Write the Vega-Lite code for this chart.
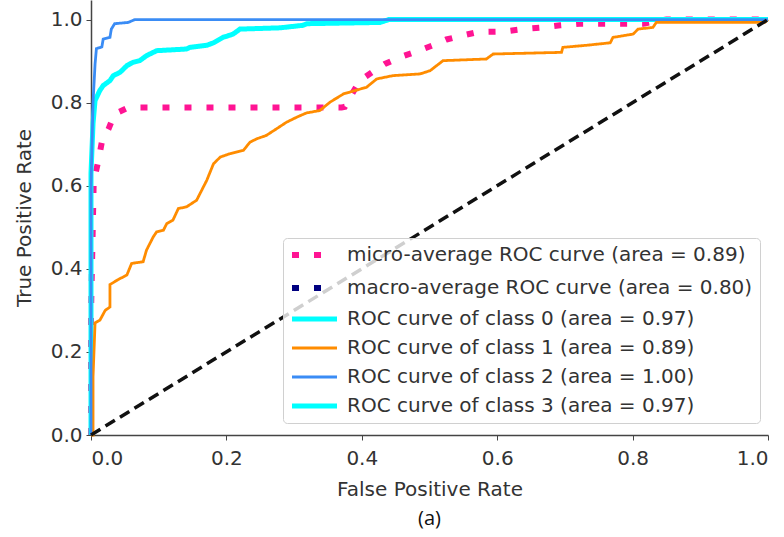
{
  "$schema": "https://vega.github.io/schema/vega-lite/v6.json",
  "autosize": "none",
  "width": 677,
  "height": 435,
  "padding": {"left": 91, "top": 0, "right": 16, "bottom": 102},
  "background": "white",
  "title": {"text": "(a)", "orient": "bottom", "anchor": "middle", "font": "Open Sans", "fontSize": 20, "fontWeight": "normal", "color": "#111", "offset": 10},
  "config": {
    "view": {"stroke": null},
    "axis": {"labelFont": "DejaVu Sans", "titleFont": "DejaVu Sans", "labelFontSize": 20, "titleFontSize": 20, "titleFontWeight": "normal", "labelColor": "#333", "titleColor": "#333", "domainColor": "#444", "domainWidth": 1.5, "tickColor": "#444", "tickSize": 5, "grid": false},
    "legend": {"orient": "none", "legendX": 192, "legendY": 238, "title": null, "labelFont": "DejaVu Sans", "labelFontSize": 20, "labelColor": "#333", "symbolType": "M-1.6,0H7.4", "symbolSize": 100, "symbolStrokeWidth": 4, "labelOffset": 37, "padding": 7, "rowPadding": 9, "fillColor": "rgba(255,255,255,0.8)", "strokeColor": "#d0d0d0", "cornerRadius": 4, "labelLimit": 600}
  },
  "layer": [
    {
      "data": {"values": [
        {"s": "micro", "i": 0, "x": 0, "y": 0},
        {"s": "micro", "i": 1, "x": 0, "y": 0.29},
        {"s": "micro", "i": 2, "x": 0.002, "y": 0.45},
        {"s": "micro", "i": 3, "x": 0.004, "y": 0.61},
        {"s": "micro", "i": 4, "x": 0.011, "y": 0.661},
        {"s": "micro", "i": 5, "x": 0.016, "y": 0.705},
        {"s": "micro", "i": 6, "x": 0.026, "y": 0.737},
        {"s": "micro", "i": 7, "x": 0.035, "y": 0.773},
        {"s": "micro", "i": 8, "x": 0.055, "y": 0.788},
        {"s": "micro", "i": 9, "x": 0.37, "y": 0.788},
        {"s": "micro", "i": 10, "x": 0.375, "y": 0.79},
        {"s": "micro", "i": 11, "x": 0.387, "y": 0.825},
        {"s": "micro", "i": 12, "x": 0.397, "y": 0.853},
        {"s": "micro", "i": 13, "x": 0.415, "y": 0.873},
        {"s": "micro", "i": 14, "x": 0.434, "y": 0.893},
        {"s": "micro", "i": 15, "x": 0.456, "y": 0.909},
        {"s": "micro", "i": 16, "x": 0.479, "y": 0.922},
        {"s": "micro", "i": 17, "x": 0.505, "y": 0.938},
        {"s": "micro", "i": 18, "x": 0.525, "y": 0.952},
        {"s": "micro", "i": 19, "x": 0.55, "y": 0.962},
        {"s": "micro", "i": 20, "x": 0.572, "y": 0.97},
        {"s": "micro", "i": 21, "x": 0.609, "y": 0.971},
        {"s": "micro", "i": 22, "x": 0.638, "y": 0.977},
        {"s": "micro", "i": 23, "x": 0.668, "y": 0.981},
        {"s": "micro", "i": 24, "x": 0.693, "y": 0.986},
        {"s": "micro", "i": 25, "x": 0.722, "y": 0.99},
        {"s": "micro", "i": 26, "x": 0.816, "y": 0.99},
        {"s": "micro", "i": 27, "x": 0.85, "y": 1.0},
        {"s": "micro", "i": 28, "x": 1, "y": 1},
        {"s": "macro", "i": 0, "x": 0, "y": 0},
        {"s": "c0", "i": 0, "x": 0, "y": 0},
        {"s": "c0", "i": 1, "x": 0, "y": 0.63},
        {"s": "c0", "i": 2, "x": 0.003, "y": 0.75},
        {"s": "c0", "i": 3, "x": 0.006, "y": 0.805},
        {"s": "c0", "i": 4, "x": 0.013, "y": 0.829},
        {"s": "c0", "i": 5, "x": 0.018, "y": 0.841},
        {"s": "c0", "i": 6, "x": 0.028, "y": 0.853},
        {"s": "c0", "i": 7, "x": 0.033, "y": 0.865},
        {"s": "c0", "i": 8, "x": 0.043, "y": 0.873},
        {"s": "c0", "i": 9, "x": 0.053, "y": 0.889},
        {"s": "c0", "i": 10, "x": 0.062, "y": 0.897},
        {"s": "c0", "i": 11, "x": 0.072, "y": 0.901},
        {"s": "c0", "i": 12, "x": 0.082, "y": 0.913},
        {"s": "c0", "i": 13, "x": 0.097, "y": 0.925},
        {"s": "c0", "i": 14, "x": 0.141, "y": 0.929},
        {"s": "c0", "i": 15, "x": 0.146, "y": 0.933},
        {"s": "c0", "i": 16, "x": 0.171, "y": 0.938},
        {"s": "c0", "i": 17, "x": 0.181, "y": 0.944},
        {"s": "c0", "i": 18, "x": 0.195, "y": 0.957},
        {"s": "c0", "i": 19, "x": 0.21, "y": 0.965},
        {"s": "c0", "i": 20, "x": 0.22, "y": 0.977},
        {"s": "c0", "i": 21, "x": 0.279, "y": 0.98},
        {"s": "c0", "i": 22, "x": 0.313, "y": 0.986},
        {"s": "c0", "i": 23, "x": 0.319, "y": 0.99},
        {"s": "c0", "i": 24, "x": 0.427, "y": 0.993},
        {"s": "c0", "i": 25, "x": 0.44, "y": 1.0},
        {"s": "c0", "i": 26, "x": 1, "y": 1},
        {"s": "c1", "i": 0, "x": 0, "y": 0},
        {"s": "c1", "i": 1, "x": 0.003, "y": 0.0},
        {"s": "c1", "i": 2, "x": 0.003, "y": 0.14},
        {"s": "c1", "i": 3, "x": 0.006, "y": 0.27},
        {"s": "c1", "i": 4, "x": 0.013, "y": 0.276},
        {"s": "c1", "i": 5, "x": 0.021, "y": 0.3},
        {"s": "c1", "i": 6, "x": 0.028, "y": 0.308},
        {"s": "c1", "i": 7, "x": 0.028, "y": 0.362},
        {"s": "c1", "i": 8, "x": 0.04, "y": 0.374},
        {"s": "c1", "i": 9, "x": 0.053, "y": 0.385},
        {"s": "c1", "i": 10, "x": 0.06, "y": 0.413},
        {"s": "c1", "i": 11, "x": 0.077, "y": 0.417},
        {"s": "c1", "i": 12, "x": 0.082, "y": 0.445},
        {"s": "c1", "i": 13, "x": 0.092, "y": 0.477},
        {"s": "c1", "i": 14, "x": 0.097, "y": 0.489},
        {"s": "c1", "i": 15, "x": 0.107, "y": 0.493},
        {"s": "c1", "i": 16, "x": 0.112, "y": 0.509},
        {"s": "c1", "i": 17, "x": 0.121, "y": 0.517},
        {"s": "c1", "i": 18, "x": 0.129, "y": 0.545},
        {"s": "c1", "i": 19, "x": 0.141, "y": 0.549},
        {"s": "c1", "i": 20, "x": 0.156, "y": 0.565},
        {"s": "c1", "i": 21, "x": 0.166, "y": 0.597},
        {"s": "c1", "i": 22, "x": 0.171, "y": 0.613},
        {"s": "c1", "i": 23, "x": 0.181, "y": 0.653},
        {"s": "c1", "i": 24, "x": 0.191, "y": 0.669},
        {"s": "c1", "i": 25, "x": 0.205, "y": 0.677},
        {"s": "c1", "i": 26, "x": 0.225, "y": 0.685},
        {"s": "c1", "i": 27, "x": 0.235, "y": 0.705},
        {"s": "c1", "i": 28, "x": 0.245, "y": 0.713},
        {"s": "c1", "i": 29, "x": 0.259, "y": 0.721},
        {"s": "c1", "i": 30, "x": 0.274, "y": 0.737},
        {"s": "c1", "i": 31, "x": 0.289, "y": 0.753},
        {"s": "c1", "i": 32, "x": 0.304, "y": 0.765},
        {"s": "c1", "i": 33, "x": 0.318, "y": 0.775},
        {"s": "c1", "i": 34, "x": 0.338, "y": 0.781},
        {"s": "c1", "i": 35, "x": 0.353, "y": 0.801},
        {"s": "c1", "i": 36, "x": 0.373, "y": 0.821},
        {"s": "c1", "i": 37, "x": 0.407, "y": 0.837},
        {"s": "c1", "i": 38, "x": 0.422, "y": 0.857},
        {"s": "c1", "i": 39, "x": 0.446, "y": 0.865},
        {"s": "c1", "i": 40, "x": 0.486, "y": 0.869},
        {"s": "c1", "i": 41, "x": 0.501, "y": 0.877},
        {"s": "c1", "i": 42, "x": 0.52, "y": 0.901},
        {"s": "c1", "i": 43, "x": 0.584, "y": 0.905},
        {"s": "c1", "i": 44, "x": 0.594, "y": 0.917},
        {"s": "c1", "i": 45, "x": 0.695, "y": 0.921},
        {"s": "c1", "i": 46, "x": 0.697, "y": 0.933},
        {"s": "c1", "i": 47, "x": 0.732, "y": 0.938},
        {"s": "c1", "i": 48, "x": 0.767, "y": 0.944},
        {"s": "c1", "i": 49, "x": 0.771, "y": 0.957},
        {"s": "c1", "i": 50, "x": 0.801, "y": 0.965},
        {"s": "c1", "i": 51, "x": 0.808, "y": 0.977},
        {"s": "c1", "i": 52, "x": 0.83, "y": 0.981},
        {"s": "c1", "i": 53, "x": 0.835, "y": 0.993},
        {"s": "c1", "i": 54, "x": 0.995, "y": 0.993},
        {"s": "c1", "i": 55, "x": 1, "y": 1},
        {"s": "c2", "i": 0, "x": 0, "y": 0},
        {"s": "c2", "i": 1, "x": 0, "y": 0.6},
        {"s": "c2", "i": 2, "x": 0.003, "y": 0.8},
        {"s": "c2", "i": 3, "x": 0.006, "y": 0.893},
        {"s": "c2", "i": 4, "x": 0.008, "y": 0.93},
        {"s": "c2", "i": 5, "x": 0.016, "y": 0.934},
        {"s": "c2", "i": 6, "x": 0.018, "y": 0.953},
        {"s": "c2", "i": 7, "x": 0.028, "y": 0.957},
        {"s": "c2", "i": 8, "x": 0.03, "y": 0.977},
        {"s": "c2", "i": 9, "x": 0.035, "y": 0.99},
        {"s": "c2", "i": 10, "x": 0.055, "y": 0.993},
        {"s": "c2", "i": 11, "x": 0.065, "y": 1.0},
        {"s": "c2", "i": 12, "x": 1, "y": 1},
        {"s": "c3", "i": 0, "x": 0, "y": 0}
      ]},
      "mark": {"type": "line", "strokeCap": "butt", "strokeJoin": "miter"},
      "encoding": {
        "x": {"field": "x", "type": "quantitative", "scale": {"domain": [0, 1], "nice": false, "zero": false}, "axis": {"title": "False Positive Rate", "values": [0, 0.2, 0.4, 0.6, 0.8, 1.0], "format": ".1f", "labelPadding": 8, "titlePadding": 11}},
        "y": {"field": "y", "type": "quantitative", "scale": {"domain": [0, 1.047], "nice": false, "zero": false}, "axis": {"title": "True Positive Rate", "values": [0, 0.2, 0.4, 0.6, 0.8, 1.0], "format": ".1f", "labelPadding": 4, "titlePadding": 16}},
        "order": {"field": "i", "type": "quantitative"},
        "color": {"field": "s", "type": "nominal", "title": null,
          "scale": {"domain": ["micro", "macro", "c0", "c1", "c2", "c3"], "range": ["#ff1493", "#000080", "#00ffff", "#ff8c00", "#3a8cf5", "#00ffff"]},
          "legend": {"labelExpr": "datum.value == 'micro' ? 'micro-average ROC curve (area = 0.89)' : datum.value == 'macro' ? 'macro-average ROC curve (area = 0.80)' : datum.value == 'c0' ? 'ROC curve of class 0 (area = 0.97)' : datum.value == 'c1' ? 'ROC curve of class 1  (area = 0.89)' : datum.value == 'c2' ? 'ROC curve of class 2 (area = 1.00)' : 'ROC curve of class 3 (area = 0.97)'",
            "encode": {"symbols": {"update": {
              "shape": {"signal": "datum.value == 'micro' || datum.value == 'macro' ? 'M-1.6,0H-0.2M2.8,0H4.2' : 'M-1.6,0H7.4'"},
              "strokeWidth": {"signal": "datum.value == 'micro' || datum.value == 'macro' ? 7 : datum.value == 'c0' || datum.value == 'c3' ? 5 : 3"},
              "strokeDash": {"value": [1, 0]}}}}}},
        "strokeDash": {"field": "s", "type": "nominal", "title": null,
          "scale": {"domain": ["micro", "macro", "c0", "c1", "c2", "c3"], "range": [[7, 15], [7, 15], [1, 0], [1, 0], [1, 0], [1, 0]]},
          "legend": null},
        "strokeWidth": {"field": "s", "type": "nominal", "title": null,
          "scale": {"type": "ordinal", "domain": ["micro", "macro", "c0", "c1", "c2", "c3"], "range": [6, 6, 5, 2.8, 2.8, 5]},
          "legend": null}
      }
    },
    {
      "data": {"values": [{"x": 0, "y": 0}, {"x": 1, "y": 1}]},
      "mark": {"type": "line", "color": "#111", "strokeWidth": 3.5, "strokeDash": [11, 6], "strokeCap": "butt"},
      "encoding": {
        "x": {"field": "x", "type": "quantitative"},
        "y": {"field": "y", "type": "quantitative"}
      }
    },
    {
      "mark": {"type": "rule", "color": "#555", "strokeWidth": 1.5},
      "encoding": {"x": {"datum": 1}}
    }
  ]
}
